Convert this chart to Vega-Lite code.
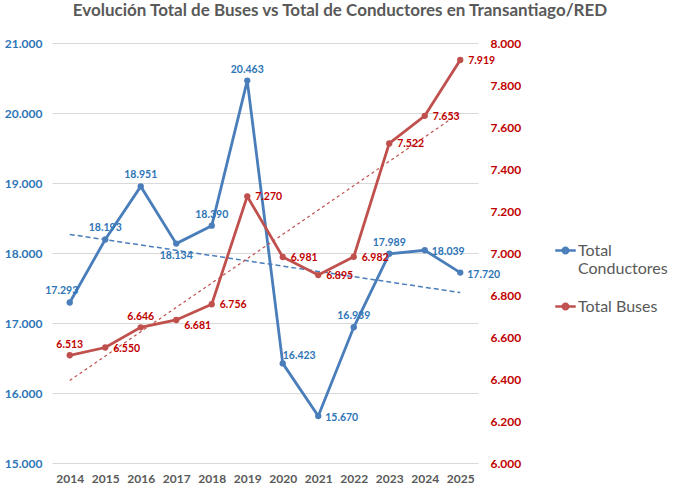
{
  "$schema": "https://vega.github.io/schema/vega-lite/v6.json",
  "autosize": {"type": "none"},
  "width": 426,
  "height": 420,
  "padding": {"left": 52, "top": 43, "right": 202, "bottom": 30},
  "background": "white",
  "title": {
    "text": "Evolución Total de Buses vs Total de Conductores en Transantiago/RED",
    "font": "Lato",
    "fontSize": 17,
    "fontWeight": "bold",
    "color": "#595959",
    "anchor": "middle",
    "dx": 75,
    "offset": 17
  },
  "config": {
    "locale": {"number": {"decimal": ",", "thousands": ".", "grouping": [3], "currency": ["$", ""]}},
    "view": {"stroke": null},
    "axis": {"labelFont": "Lato", "labelFontWeight": "bold", "labelFontSize": 12, "domain": false, "ticks": false, "title": null}
  },
  "data": {
    "values": [
      {"year": 2014, "conductores": 17293, "buses": 6513},
      {"year": 2015, "conductores": 18193, "buses": 6550},
      {"year": 2016, "conductores": 18951, "buses": 6646},
      {"year": 2017, "conductores": 18134, "buses": 6681},
      {"year": 2018, "conductores": 18390, "buses": 6756},
      {"year": 2019, "conductores": 20463, "buses": 7270},
      {"year": 2020, "conductores": 16423, "buses": 6981},
      {"year": 2021, "conductores": 15670, "buses": 6895},
      {"year": 2022, "conductores": 16939, "buses": 6982},
      {"year": 2023, "conductores": 17989, "buses": 7522},
      {"year": 2024, "conductores": 18039, "buses": 7653},
      {"year": 2025, "conductores": 17720, "buses": 7919}
    ]
  },
  "encoding": {
    "x": {
      "field": "year",
      "type": "quantitative",
      "scale": {"domain": [2013.5, 2025.5], "nice": false, "zero": false},
      "axis": {"values": [2014, 2015, 2016, 2017, 2018, 2019, 2020, 2021, 2022, 2023, 2024, 2025], "format": "d", "grid": false, "labelColor": "#595959", "labelPadding": 10}
    }
  },
  "layer": [
    {
      "encoding": {
        "y": {
          "field": "conductores",
          "type": "quantitative",
          "scale": {"domain": [15000, 21000], "nice": false, "zero": false},
          "axis": {"orient": "left", "values": [15000, 16000, 17000, 18000, 19000, 20000, 21000], "format": ",.0f", "labelColor": "#2E75B6", "labelPadding": 10, "grid": true, "gridColor": "#D9D9D9", "gridWidth": 1}
        }
      },
      "layer": [
        {
          "transform": [{"regression": "conductores", "on": "year"}],
          "mark": {"type": "line", "color": "#4A7EBB", "strokeWidth": 1.5, "strokeDash": [5, 3]}
        },
        {
          "mark": {"type": "line", "strokeWidth": 2.8},
          "encoding": {
            "color": {"datum": "Total Conductores", "type": "nominal",
              "scale": {"domain": ["Total Conductores", "Total Buses"], "range": ["#4A7EBB", "#C0504D"]},
              "legend": {
                "orient": "none", "legendX": 502, "legendY": 196, "title": null,
                "labelFont": "Lato", "labelFontSize": 16, "labelColor": "#595959",
                "labelExpr": "datum.label == 'Total Conductores' ? ['Total', 'Conductores'] : datum.label",
                "symbolType": "M-1,0H1M-0.27,0A0.27,0.27,0,1,1,0.27,0A0.27,0.27,0,1,1,-0.27,0Z",
                "symbolSize": 420, "symbolStrokeWidth": 2.5, "rowPadding": 18, "labelOffset": 1
              }
            }
          }
        },
        {"mark": {"type": "circle", "color": "#4A7EBB", "size": 40, "opacity": 1}},
        {
          "transform": [{"filter": "indexof([2015, 2016, 2018, 2019, 2022, 2023], datum.year) >= 0"}],
          "mark": {"type": "text", "font": "Lato", "fontSize": 10.5, "fontWeight": "bold", "color": "#2E75B6", "dy": -11},
          "encoding": {"text": {"field": "conductores", "type": "quantitative", "format": ",.0f"}}
        },
        {
          "transform": [{"filter": "datum.year == 2014"}],
          "mark": {"type": "text", "font": "Lato", "fontSize": 10.5, "fontWeight": "bold", "color": "#2E75B6", "dx": -8, "dy": -11},
          "encoding": {"text": {"field": "conductores", "type": "quantitative", "format": ",.0f"}}
        },
        {
          "transform": [{"filter": "datum.year == 2017"}],
          "mark": {"type": "text", "font": "Lato", "fontSize": 10.5, "fontWeight": "bold", "color": "#2E75B6", "dy": 12},
          "encoding": {"text": {"field": "conductores", "type": "quantitative", "format": ",.0f"}}
        },
        {
          "transform": [{"filter": "indexof([2021, 2024, 2025], datum.year) >= 0"}],
          "mark": {"type": "text", "font": "Lato", "fontSize": 10.5, "fontWeight": "bold", "color": "#2E75B6", "align": "left", "dx": 7, "dy": 2},
          "encoding": {"text": {"field": "conductores", "type": "quantitative", "format": ",.0f"}}
        },
        {
          "transform": [{"filter": "datum.year == 2020"}],
          "mark": {"type": "text", "font": "Lato", "fontSize": 10.5, "fontWeight": "bold", "color": "#2E75B6", "align": "left", "dx": 0, "dy": -7},
          "encoding": {"text": {"field": "conductores", "type": "quantitative", "format": ",.0f"}}
        }
      ]
    },
    {
      "encoding": {
        "y": {
          "field": "buses",
          "type": "quantitative",
          "scale": {"domain": [6000, 8000], "nice": false, "zero": false},
          "axis": {"orient": "right", "values": [6000, 6200, 6400, 6600, 6800, 7000, 7200, 7400, 7600, 7800, 8000], "format": ",.0f", "labelColor": "#C00000", "labelPadding": 12, "grid": false}
        }
      },
      "layer": [
        {
          "transform": [{"regression": "buses", "on": "year"}],
          "mark": {"type": "line", "color": "#C0504D", "strokeWidth": 1.2, "strokeDash": [3, 3]}
        },
        {
          "mark": {"type": "line", "strokeWidth": 2.8},
          "encoding": {"color": {"datum": "Total Buses", "type": "nominal"}}
        },
        {"mark": {"type": "circle", "color": "#C0504D", "size": 40, "opacity": 1}},
        {
          "transform": [{"filter": "indexof([2014, 2016], datum.year) >= 0"}],
          "mark": {"type": "text", "font": "Lato", "fontSize": 10.5, "fontWeight": "bold", "color": "#C00000", "dy": -10},
          "encoding": {"text": {"field": "buses", "type": "quantitative", "format": ",.0f"}}
        },
        {
          "transform": [{"filter": "indexof([2014, 2016, 2017], datum.year) < 0"}],
          "mark": {"type": "text", "font": "Lato", "fontSize": 10.5, "fontWeight": "bold", "color": "#C00000", "align": "left", "dx": 8, "dy": 1},
          "encoding": {"text": {"field": "buses", "type": "quantitative", "format": ",.0f"}}
        },
        {
          "transform": [{"filter": "datum.year == 2017"}],
          "mark": {"type": "text", "font": "Lato", "fontSize": 10.5, "fontWeight": "bold", "color": "#C00000", "align": "left", "dx": 8, "dy": 6},
          "encoding": {"text": {"field": "buses", "type": "quantitative", "format": ",.0f"}}
        }
      ]
    }
  ],
  "resolve": {"scale": {"y": "independent"}}
}
